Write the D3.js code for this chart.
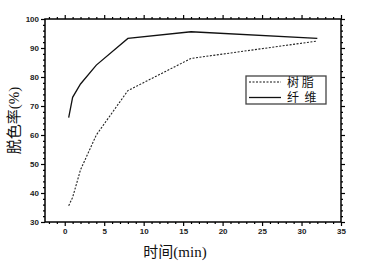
<!DOCTYPE html>
<html>
<head>
<meta charset="utf-8">
<script src="https://cdn.jsdelivr.net/npm/d3@7"></script>
<style>
  body { margin: 0; background: #fff; }
  .tick text { font-family: Arial, "Liberation Sans", sans-serif; font-weight: bold; font-size: 8px; fill: #222; }
</style>
</head>
<body>
<div id="chart"></div>
<script>
// time (min)
var times = [0.5, 1, 2, 4, 8, 16, 32];
// decolorization rate (%)
var resin = [35.6, 38.5, 48, 60, 75.3, 86.4, 92.4];
var fiber = [66, 73, 77.6, 84.1, 93.3, 95.6, 93.3];
var seriesNames = ["树 脂", "纤  维"];
var xTicks = [0, 5, 10, 15, 20, 25, 30, 35];
var yTicks = [30, 40, 50, 60, 70, 80, 90, 100];

var margin = {top: 19, right: 26, bottom: 44, left: 45},
    width = 367 - margin.left - margin.right,
    height = 266 - margin.top - margin.bottom;

var svg = d3.select("#chart")
            .append("svg")
            .attr("width", 367)
            .attr("height", 266);

var g = svg.append("g").attr("transform", "translate(" + margin.left + "," + margin.top + ")");

var x = d3.scaleLinear().domain([-2.5, 35]).range([0, width]);
var y = d3.scaleLinear().domain([30, 100]).range([height, 0]);

var minorX = d3.range(-2, 36, 1).filter(function(d) { return d % 5 !== 0; });
var minorY = d3.range(30, 101, 2).filter(function(d) { return d % 10 !== 0; });

// minor ticks (all four sides)
function minor(axisFn, scale, vals, tr) {
    g.append("g").attr("transform", tr)
        .call(axisFn(scale).tickValues(vals).tickSize(2).tickFormat(""))
        .call(function(s) { s.select(".domain").remove(); s.selectAll("line").attr("stroke-width", 1.2); });
}
minor(d3.axisBottom, x, minorX, "translate(0," + height + ")");
minor(d3.axisTop, x, minorX, "translate(0,0)");
minor(d3.axisLeft, y, minorY, "translate(0,0)");
minor(d3.axisRight, y, minorY, "translate(" + width + ",0)");

// major ticks
g.append("g")
    .attr("transform", "translate(0," + height + ")")
    .call(d3.axisBottom(x).tickValues(xTicks).tickSize(4).tickPadding(2))
    .call(function(s) { s.select(".domain").remove(); s.selectAll("line").attr("stroke-width", 1.2); });

g.append("g")
    .call(d3.axisLeft(y).tickValues(yTicks).tickSize(4).tickPadding(2))
    .call(function(s) { s.select(".domain").remove(); s.selectAll("line").attr("stroke-width", 1.2); });

g.append("g")
    .call(d3.axisTop(x).tickValues(xTicks).tickSize(4).tickFormat(""))
    .call(function(s) { s.select(".domain").remove(); s.selectAll("line").attr("stroke-width", 1.2); });

g.append("g")
    .attr("transform", "translate(" + width + ",0)")
    .call(d3.axisRight(y).tickValues(yTicks).tickSize(4).tickFormat(""))
    .call(function(s) { s.select(".domain").remove(); s.selectAll("line").attr("stroke-width", 1.2); });

// frame
g.append("rect")
    .attr("width", width).attr("height", height)
    .attr("fill", "none").attr("stroke", "#000").attr("stroke-width", 1.5);

var line = d3.line()
    .x(function(d, i) { return x(times[i]); })
    .y(function(d) { return y(d); });

g.append("path").datum(resin)
    .attr("d", line).attr("fill", "none")
    .attr("stroke", "#222").attr("stroke-width", 1.1)
    .attr("stroke-dasharray", "2,1.5");

g.append("path").datum(fiber)
    .attr("d", line).attr("fill", "none")
    .attr("stroke", "#111").attr("stroke-width", 1.3);

// legend
var lg = svg.append("g").attr("transform", "translate(246,76)");
lg.append("rect").attr("width", 80).attr("height", 28)
    .attr("fill", "#fff").attr("stroke", "#444").attr("stroke-width", 1.3);
[["2,1.5", 6], [null, 21.5]].forEach(function(s, i) {
    lg.append("line").attr("x1", 3).attr("x2", 35).attr("y1", s[1]).attr("y2", s[1])
        .attr("stroke", "#111").attr("stroke-width", i ? 1.3 : 1.1)
        .attr("stroke-dasharray", s[0]);
    lg.append("text").attr("x", 41).attr("y", s[1] + 4.5)
        .attr("font-family", "'Noto Sans CJK SC', serif").attr("font-size", 12)
        .attr("fill", "#111")
        .attr("xml:space", "preserve")
        .style("white-space", "pre")
        .text(seriesNames[i]);
});

// axis titles
svg.append("text")
    .attr("transform", "translate(19," + (margin.top + height / 2) + ") rotate(-90)")
    .attr("text-anchor", "middle")
    .attr("font-family", "'Liberation Serif', 'Noto Sans CJK SC', serif").attr("font-size", 15)
    .attr("fill", "#111")
    .text("脱色率(%)");

svg.append("text")
    .attr("x", 175).attr("y", 257)
    .attr("text-anchor", "middle")
    .attr("font-family", "'Liberation Serif', 'Noto Sans CJK SC', serif").attr("font-size", 15)
    .attr("fill", "#111")
    .text("时间(min)");
</script>
</body>
</html>
